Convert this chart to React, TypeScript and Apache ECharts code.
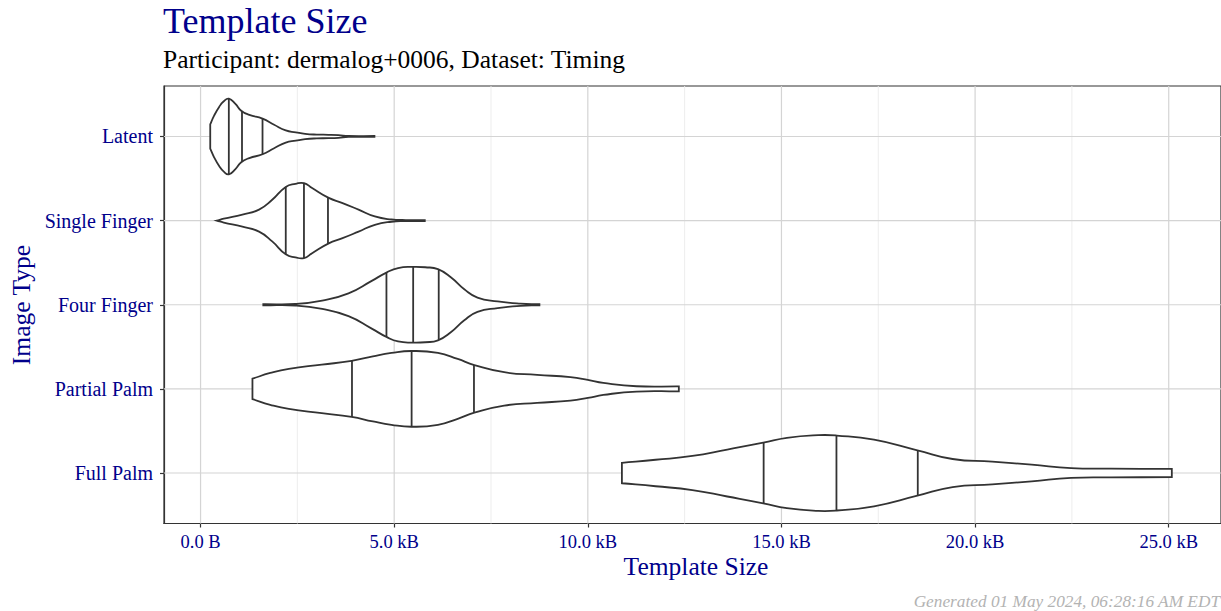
import React, { useEffect, useRef } from "react";
import * as echarts from "echarts";

// ---------- data ----------
const categories = ["Latent", "Single Finger", "Four Finger", "Partial Palm", "Full Palm"];

// density profiles (x in kB, relative density 0..1)
const latentX = [0.25, 0.35, 0.48, 0.6, 0.73, 0.9, 1.05, 1.26, 1.6, 1.9, 2.2, 2.46, 2.7, 3.0, 3.3, 3.56, 3.82, 4.49];
const latentD = [0.32, 0.55, 0.78, 0.93, 1.0, 0.86, 0.68, 0.57, 0.47, 0.31, 0.16, 0.11, 0.07, 0.05, 0.045, 0.035, 0.013, 0.013];
const latentQ = [0.73, 1.07, 1.6];

const singleX = [0.42, 0.6, 1.08, 1.51, 1.85, 2.2, 2.45, 2.67, 2.88, 3.31, 3.65, 4.08, 4.5, 4.93, 5.3, 5.79];
const singleD = [0.0, 0.05, 0.16, 0.29, 0.55, 0.89, 0.97, 0.99, 0.86, 0.6, 0.47, 0.29, 0.11, 0.03, 0.015, 0.013];
const singleQ = [2.2, 2.67, 3.29];

const fourX = [1.62, 2.45, 3.14, 3.82, 4.42, 4.8, 5.1, 5.49, 5.8, 6.13, 6.47, 6.81, 7.15, 7.67, 8.26, 8.75];
const fourD = [0.015, 0.02, 0.11, 0.3, 0.63, 0.85, 0.97, 1.0, 0.99, 0.94, 0.72, 0.41, 0.19, 0.09, 0.03, 0.015];
const fourQ = [4.8, 5.49, 6.15];

const partialX = [1.34, 1.8, 2.28, 3.13, 3.9, 4.45, 4.93, 5.44, 6.13, 6.64, 7.07, 7.84, 8.69, 9.55, 10.0, 10.4, 11.26, 12.35];
const partialD = [0.27, 0.42, 0.53, 0.64, 0.74, 0.86, 0.95, 1.0, 0.95, 0.79, 0.63, 0.44, 0.37, 0.31, 0.24, 0.16, 0.07, 0.065];
const partialQ = [3.91, 5.45, 7.06];

const fullX = [10.88, 11.75, 12.7, 13.6, 14.53, 15.14, 15.95, 16.43, 17.39, 18.51, 19.42, 20.44, 21.46, 22.48, 23.5, 25.08];
const fullD = [0.27, 0.35, 0.45, 0.62, 0.8, 0.93, 1.0, 0.99, 0.88, 0.6, 0.37, 0.3, 0.22, 0.13, 0.115, 0.11];
const fullQ = [14.54, 16.42, 18.52];

const xTickValues = [0, 5, 10, 15, 20, 25];
const xTickLabels = ["0.0 B", "5.0 kB", "10.0 kB", "15.0 kB", "20.0 kB", "25.0 kB"];
const xMinorGrid = [2.5, 7.5, 12.5, 17.5, 22.5];
const yTickValues = [1, 2, 3, 4, 5];

const titleText = "Template Size";
const subtitleText = "Participant: dermalog+0006, Dataset: Timing";
const xTitle = "Template Size";
const yTitle = "Image Type";
const footnote = "Generated 01 May 2024, 06:28:16 AM EDT";

// ---------- helpers ----------
const profiles = [
  { x: latentX, d: latentD, q: latentQ },
  { x: singleX, d: singleD, q: singleQ },
  { x: fourX, d: fourD, q: fourQ },
  { x: partialX, d: partialD, q: partialQ },
  { x: fullX, d: fullD, q: fullQ },
];

const XMIN = -0.944;
const XMAX = 26.35;
const YMIN = 0.4;
const YMAX = 5.6;
const HALF = 0.45;
const FONT = '"Liberation Serif", "Times New Roman", serif';
const BLUE = "#00008B";
const INK = "#333333";

function densityAt(xs: number[], ds: number[], q: number): number {
  for (let j = 0; j < xs.length - 1; j++) {
    if (q >= xs[j] && q <= xs[j + 1]) {
      const t = (q - xs[j]) / (xs[j + 1] - xs[j]);
      return ds[j] + (ds[j + 1] - ds[j]) * t;
    }
  }
  return 0;
}

export default function App() {
  const ref = useRef<HTMLDivElement>(null);

  useEffect(() => {
    if (!ref.current) return;
    const chart = echarts.init(ref.current, undefined, { renderer: "svg" });

    const renderViolin = (params: any, api: any) => {
      const i = params.dataIndex;
      const p = profiles[i];
      const c = i + 1;
      const top = p.x.map((x, j) => api.coord([x, c - HALF * p.d[j]]));
      const bot = p.x.map((x, j) => api.coord([x, c + HALF * p.d[j]]));
      const n = top.length;
      const rev = bot.slice().reverse();
      const pts = [top[0], ...top, top[n - 1], bot[n - 1], ...rev, bot[0]];
      const lines = p.q.map((q) => {
        const w = densityAt(p.x, p.d, q);
        const a = api.coord([q, c - HALF * w]);
        const b = api.coord([q, c + HALF * w]);
        return {
          type: "line",
          shape: { x1: a[0], y1: a[1], x2: b[0], y2: b[1] },
          style: { stroke: INK, lineWidth: 1.8 },
        };
      });
      return {
        type: "group",
        children: [
          {
            type: "polygon",
            shape: { points: pts, smooth: 0.5 },
            style: { fill: "#ffffff", stroke: INK, lineWidth: 1.8 },
          },
          ...lines,
        ],
      };
    };

    const vLine = (color: string, width: number) => (params: any, api: any) => {
      const v = api.value(0);
      const a = api.coord([v, YMIN]);
      const b = api.coord([v, YMAX]);
      return {
        type: "line",
        shape: { x1: a[0], y1: a[1], x2: b[0], y2: b[1] },
        style: { stroke: color, lineWidth: width },
      };
    };
    const hLine = (params: any, api: any) => {
      const v = api.value(1);
      const a = api.coord([XMIN, v]);
      const b = api.coord([XMAX, v]);
      return {
        type: "line",
        shape: { x1: a[0], y1: a[1], x2: b[0], y2: b[1] },
        style: { stroke: "#d4d4d4", lineWidth: 1.2 },
      };
    };

    chart.setOption({
      animation: false,
      backgroundColor: "#ffffff",
      grid: {
        left: 164,
        top: 86,
        width: 1064.5,
        height: 437.5,
        show: true,
        borderColor: INK,
        borderWidth: 1.2,
        backgroundColor: "transparent",
      },
      xAxis: {
        type: "value",
        min: XMIN,
        max: XMAX,
        axisLine: { show: true, onZero: false, lineStyle: { color: INK, width: 1.2 } },
        axisTick: {
          show: true,
          customValues: xTickValues,
          length: 4,
          lineStyle: { color: INK, width: 1.2 },
        },
        axisLabel: {
          customValues: xTickValues,
          formatter: (v: number) => {
            const k = xTickValues.indexOf(Math.round(v * 10) / 10);
            return k >= 0 ? xTickLabels[k] : "";
          },
          color: BLUE,
          fontFamily: FONT,
          fontSize: 18.5,
          margin: 9,
        },
        splitLine: { show: false },
      },
      yAxis: {
        type: "value",
        min: YMIN,
        max: YMAX,
        inverse: true,
        axisLine: { show: true, onZero: false, lineStyle: { color: INK, width: 1.2 } },
        axisTick: {
          show: true,
          customValues: yTickValues,
          length: 4,
          lineStyle: { color: INK, width: 1.2 },
        },
        axisLabel: {
          customValues: yTickValues,
          formatter: (v: number) => categories[Math.round(v) - 1] ?? "",
          color: BLUE,
          fontFamily: FONT,
          fontSize: 20,
          margin: 11,
        },
        splitLine: { show: false },
      },
      graphic: [
        {
          type: "text",
          x: 163,
          y: 21,
          style: {
            text: titleText,
            fontFamily: FONT,
            fontSize: 36,
            fill: BLUE,
            align: "left",
            verticalAlign: "middle",
          },
        },
        {
          type: "text",
          x: 163,
          y: 59.5,
          style: {
            text: subtitleText,
            fontFamily: FONT,
            fontSize: 25.5,
            fill: "#000000",
            align: "left",
            verticalAlign: "middle",
          },
        },
        {
          type: "text",
          x: 696,
          y: 566.5,
          style: {
            text: xTitle,
            fontFamily: FONT,
            fontSize: 25.5,
            fill: BLUE,
            align: "center",
            verticalAlign: "middle",
          },
        },
        {
          type: "text",
          x: 21.5,
          y: 305,
          rotation: Math.PI / 2,
          style: {
            text: yTitle,
            fontFamily: FONT,
            fontSize: 25.5,
            fill: BLUE,
            align: "center",
            verticalAlign: "middle",
          },
        },
        {
          type: "text",
          x: 1220,
          y: 601,
          style: {
            text: footnote,
            fontFamily: FONT,
            fontStyle: "italic",
            fontSize: 17.3,
            fill: "#b3b3b3",
            align: "right",
            verticalAlign: "middle",
          },
        },
      ],
      series: [
        {
          type: "custom",
          name: "minorGrid",
          z: 1,
          silent: true,
          renderItem: vLine("#ebebeb", 0.9),
          data: xMinorGrid.map((v) => [v, 1]),
        },
        {
          type: "custom",
          name: "majorGrid",
          z: 1,
          silent: true,
          renderItem: vLine("#d4d4d4", 1.2),
          data: xTickValues.map((v) => [v, 1]),
        },
        {
          type: "custom",
          name: "catGrid",
          z: 1,
          silent: true,
          renderItem: hLine,
          data: yTickValues.map((v) => [XMIN, v]),
        },
        {
          type: "custom",
          name: "violins",
          z: 3,
          silent: true,
          renderItem: renderViolin,
          data: profiles.map((p, i) => [p.q[1], i + 1]),
        },
      ],
    });

    return () => chart.dispose();
  }, []);

  return (
    <div
      ref={ref}
      style={{ position: "absolute", left: 0, top: 0, width: 1221, height: 611 }}
    />
  );
}
